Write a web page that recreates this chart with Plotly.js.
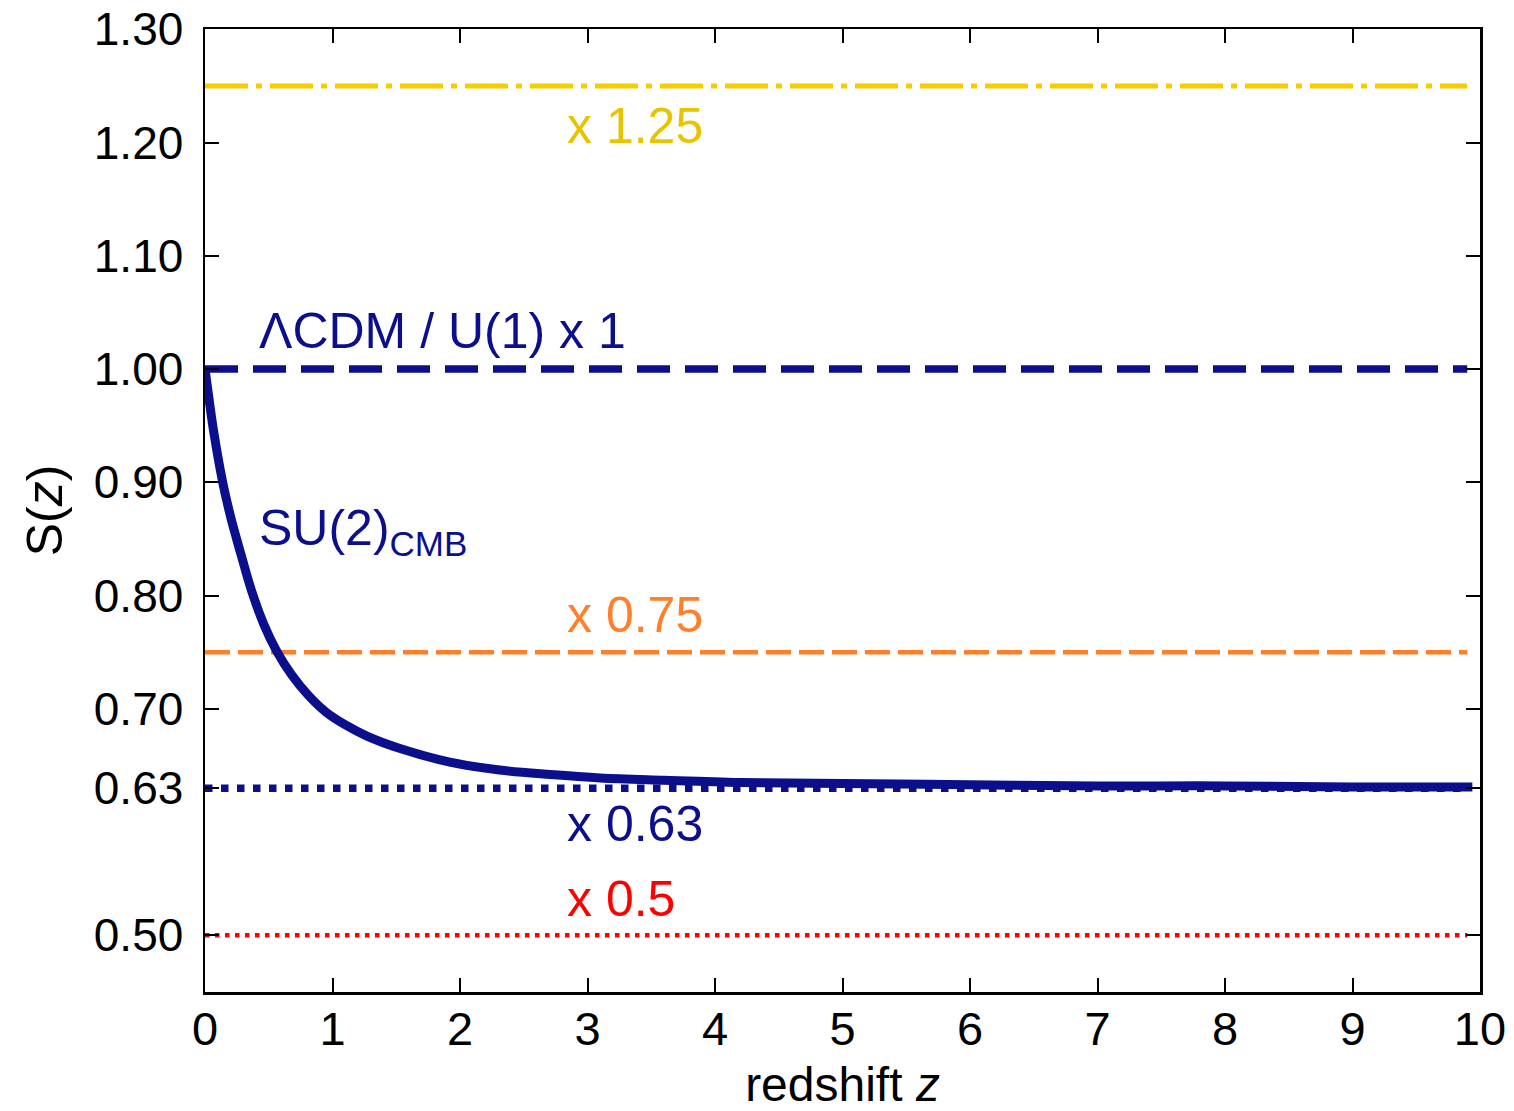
<!DOCTYPE html>
<html>
<head>
<meta charset="utf-8">
<script src="https://cdn.plot.ly/plotly-3.0.1.min.js"></script>
<style>html,body{margin:0;padding:0;background:#fff;}#chart{width:1514px;height:1111px;}</style>
</head>
<body>
<div id="chart"></div>
<script>
// SU(2)_CMB curve S(z)
const curveZ = [0, 0.03, 0.065, 0.139, 0.2, 0.248, 0.288, 0.366, 0.46, 0.562, 0.68, 0.81, 0.95, 1.098, 1.27, 1.53, 1.92, 2.31, 2.71, 3.1, 3.6, 4.2, 5.0, 6.0, 7.0, 8.0, 9.0, 9.94];
const curveS = [1.0, 0.975, 0.947, 0.900, 0.870, 0.850, 0.834, 0.804, 0.775, 0.751, 0.730, 0.712, 0.697, 0.686, 0.676, 0.665, 0.653, 0.646, 0.642, 0.639, 0.637, 0.635, 0.634, 0.633, 0.632, 0.632, 0.631, 0.631];

// constant scaling lines
const lineZ = [0, 9.9];
const scaleValues = [1.25, 1.0, 0.75, 0.63, 0.5];
const scaleLabels = ['x 1.25', 'ΛCDM / U(1) x 1', 'x 0.75', 'x 0.63', 'x 0.5'];

const yTickVals = [0.50, 0.63, 0.70, 0.80, 0.90, 1.00, 1.10, 1.20, 1.30];
const yTickText = ['0.50', '0.63', '0.70', '0.80', '0.90', '1.00', '1.10', '1.20', '1.30'];
const xTickVals = [0, 1, 2, 3, 4, 5, 6, 7, 8, 9, 10];

const NAVY = '#0b0f8c';
const ORANGE = '#ff7f2a';
const YELLOW = '#f5cd00';
const YELLOW_TXT = '#e8c400';
const RED = '#ff0000';

const lineStyles = [
  {color: YELLOW, width: 5, dash: '43px,8px,6px,8px'},
  {color: NAVY, width: 7.5, dash: '33px,15px'},
  {color: ORANGE, width: 4.5, dash: '25px,8px'},
  {color: NAVY, width: 7.5, dash: '7.5px,8.5px'},
  {color: RED, width: 4.5, dash: '4.5px,5.5px'}
];

const traces = scaleValues.map((v, i) => ({
  x: lineZ,
  y: [v, v],
  mode: 'lines',
  line: lineStyles[i],
  hoverinfo: 'skip',
  showlegend: false
}));
traces.push({
  x: curveZ,
  y: curveS,
  mode: 'lines',
  line: {color: NAVY, width: 9, shape: 'spline', smoothing: 1},
  showlegend: false
});

const F = 'Liberation Sans, Arial, sans-serif';
const annFont = (c) => ({family: F, size: 50, color: c});
const annotations = [
  {x: 2.82, y: 1.215, text: scaleLabels[0], font: annFont(YELLOW_TXT)},
  {x: 0.41, y: 1.034, text: scaleLabels[1], font: annFont(NAVY)},
  {x: 0.41, y: 0.857, text: 'SU(2)<sub>CMB</sub>', font: annFont(NAVY)},
  {x: 2.82, y: 0.783, text: scaleLabels[2], font: annFont(ORANGE)},
  {x: 2.82, y: 0.598, text: scaleLabels[3], font: annFont(NAVY)},
  {x: 2.82, y: 0.532, text: scaleLabels[4], font: annFont(RED)}
].map(a => Object.assign({xref: 'x', yref: 'y', xanchor: 'left', yanchor: 'middle', showarrow: false}, a));

const layout = {
  width: 1514,
  height: 1111,
  paper_bgcolor: '#fff',
  plot_bgcolor: '#fff',
  margin: {l: 205, r: 34, t: 29, b: 119},
  font: {family: F, color: '#000'},
  xaxis: {
    range: [0, 10],
    tickvals: xTickVals,
    ticks: 'inside',
    ticklen: 14,
    tickwidth: 2,
    tickcolor: '#000',
    showline: true,
    linecolor: '#000',
    linewidth: 2.5,
    mirror: 'ticks',
    showgrid: false,
    zeroline: false,
    ticklabelstandoff: -6,
    ticklabeloverflow: 'allow',
    tickfont: {family: F, size: 47, color: '#000'},
    title: {text: 'redshift <i>z</i>', font: {family: F, size: 48, color: '#000'}, standoff: 16}
  },
  yaxis: {
    range: [0.45, 1.3003],
    tickvals: yTickVals,
    ticktext: yTickText,
    ticks: 'inside',
    ticklen: 14,
    tickwidth: 2,
    tickcolor: '#000',
    showline: true,
    linecolor: '#000',
    linewidth: 2.5,
    mirror: 'ticks',
    showgrid: false,
    zeroline: false,
    ticklabelstandoff: 10,
    ticklabeloverflow: 'allow',
    tickfont: {family: F, size: 46, color: '#000'},
    title: {text: 'S(<i>z</i>)', font: {family: F, size: 50, color: '#000'}, standoff: 16}
  },
  annotations: annotations
};

Plotly.newPlot('chart', traces, layout, {displayModeBar: false, staticPlot: true});
</script>
</body>
</html>
